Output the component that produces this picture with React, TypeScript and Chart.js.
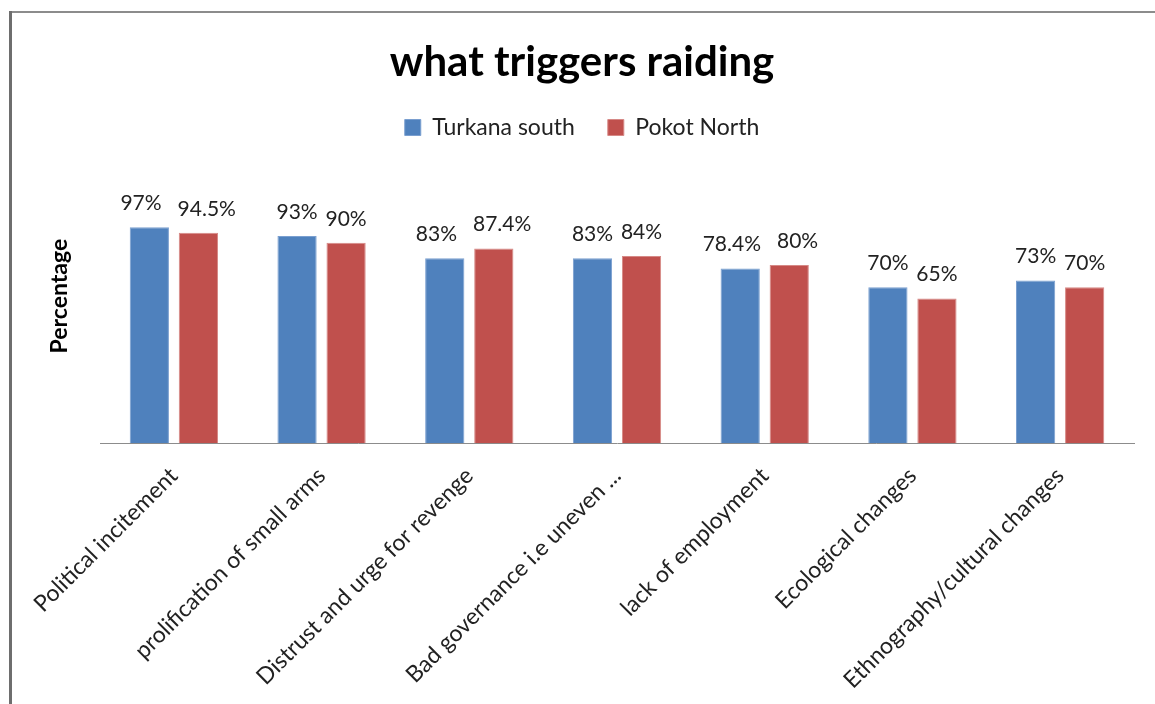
import React, { useEffect, useRef } from "react";
import { Chart, registerables } from "chart.js";

Chart.register(...registerables);

const categories = [
  "Political incitement",
  "prolification of small arms",
  "Distrust and urge for revenge",
  "Bad governance i.e uneven ...",
  "lack of employment",
  "Ecological changes",
  "Ethnography/cultural changes",
];
const turkanaSouth = [97, 93, 83, 83, 78.4, 70, 73];
const pokotNorth = [94.5, 90, 87.4, 84, 80, 65, 70];
const seriesNames = ["Turkana south", "Pokot North"];
const chartTitle = "what triggers raiding";
const yAxisTitle = "Percentage";

const FONT = "Lato, 'Open Sans', sans-serif";
const W = 1155;
const H = 720;

// Outer frame: grey top rule and darker left edge
const framePlugin = {
  id: "frame",
  beforeDraw(chart: any) {
    const { ctx, width, height } = chart;
    ctx.save();
    ctx.fillStyle = "#ffffff";
    ctx.fillRect(0, 0, width, height);
    ctx.strokeStyle = "#8c8c8c";
    ctx.lineWidth = 2;
    ctx.beginPath();
    ctx.moveTo(9, 12);
    ctx.lineTo(width, 12);
    ctx.stroke();
    ctx.strokeStyle = "#6e6e6e";
    ctx.lineWidth = 3;
    ctx.beginPath();
    ctx.moveTo(10.5, 11);
    ctx.lineTo(10.5, height);
    ctx.stroke();
    ctx.restore();
  },
};

// Percentage labels above each bar; neighbouring labels that collide are pushed apart
const valueLabelPlugin = {
  id: "valueLabels",
  afterDatasetsDraw(chart: any) {
    const { ctx } = chart;
    const sets = chart.data.datasets;
    ctx.save();
    ctx.font = `21px ${FONT}`;
    ctx.fillStyle = "#222222";
    ctx.textAlign = "center";
    ctx.textBaseline = "middle";
    const n = chart.data.labels.length;
    for (let i = 0; i < n; i++) {
      const items = sets.map((ds: any, di: number) => {
        const bar = chart.getDatasetMeta(di).data[i];
        const text = `${ds.data[i]}%`;
        return { text, x: bar.x, y: bar.y - 24, w: ctx.measureText(text).width };
      });
      for (let k = 1; k < items.length; k++) {
        const a = items[k - 1];
        const b = items[k];
        const gap = b.x - b.w / 2 - (a.x + a.w / 2);
        if (gap < 6) {
          const push = (16 - gap) / 2;
          a.x -= push;
          b.x += push;
        }
      }
      items.forEach((it: any) => ctx.fillText(it.text, it.x, it.y));
    }
    ctx.restore();
  },
};

export default function App() {
  const canvasRef = useRef<HTMLCanvasElement | null>(null);

  useEffect(() => {
    if (!canvasRef.current) return;
    const chart = new Chart(canvasRef.current, {
      type: "bar",
      data: {
        labels: categories,
        datasets: [
          {
            label: seriesNames[0],
            data: turkanaSouth,
            backgroundColor: "#4F81BD",
            borderColor: "#7a9fd0",
            borderWidth: 1,
            categoryPercentage: 0.664,
            barPercentage: 0.8,
          },
          {
            label: seriesNames[1],
            data: pokotNorth,
            backgroundColor: "#C0504D",
            borderColor: "#d68986",
            borderWidth: 1,
            categoryPercentage: 0.664,
            barPercentage: 0.8,
          },
        ],
      },
      options: {
        responsive: false,
        animation: false,
        devicePixelRatio: 1,
        layout: { padding: { left: 30, right: 21, top: 0, bottom: 7 } },
        plugins: {
          title: {
            display: true,
            text: chartTitle,
            color: "#000000",
            font: { family: FONT, size: 42, weight: "bold", lineHeight: 1.0 },
            padding: { top: 41, bottom: 0 },
          },
          legend: {
            display: true,
            position: "top",
            labels: {
              color: "#222222",
              font: { family: FONT, size: 23 },
              boxWidth: 16,
              boxHeight: 16,
              padding: 33,
            },
          },
          tooltip: { enabled: false },
        },
        scales: {
          x: {
            grid: { display: false, drawTicks: false },
            border: { display: true, color: "#8c8c8c", width: 1 },
            ticks: {
              color: "#222222",
              font: { family: FONT, size: 23 },
              minRotation: 45,
              maxRotation: 45,
              autoSkip: false,
              padding: 19,
            },
          },
          y: {
            min: 0,
            max: 132.1,
            grid: { display: false, drawTicks: false },
            border: { display: false },
            ticks: { display: false },
            title: {
              display: true,
              text: yAxisTitle,
              color: "#000000",
              font: { family: FONT, size: 23, weight: "bold", lineHeight: 1.2 },
              padding: { top: 16.2, bottom: 26.2 },
            },
          },
        },
      },
      plugins: [framePlugin, valueLabelPlugin],
    });
    return () => chart.destroy();
  }, []);

  return (
    <div style={{ position: "fixed", left: 0, top: 0, width: W, height: H }}>
      <canvas ref={canvasRef} width={W} height={H} />
    </div>
  );
}
